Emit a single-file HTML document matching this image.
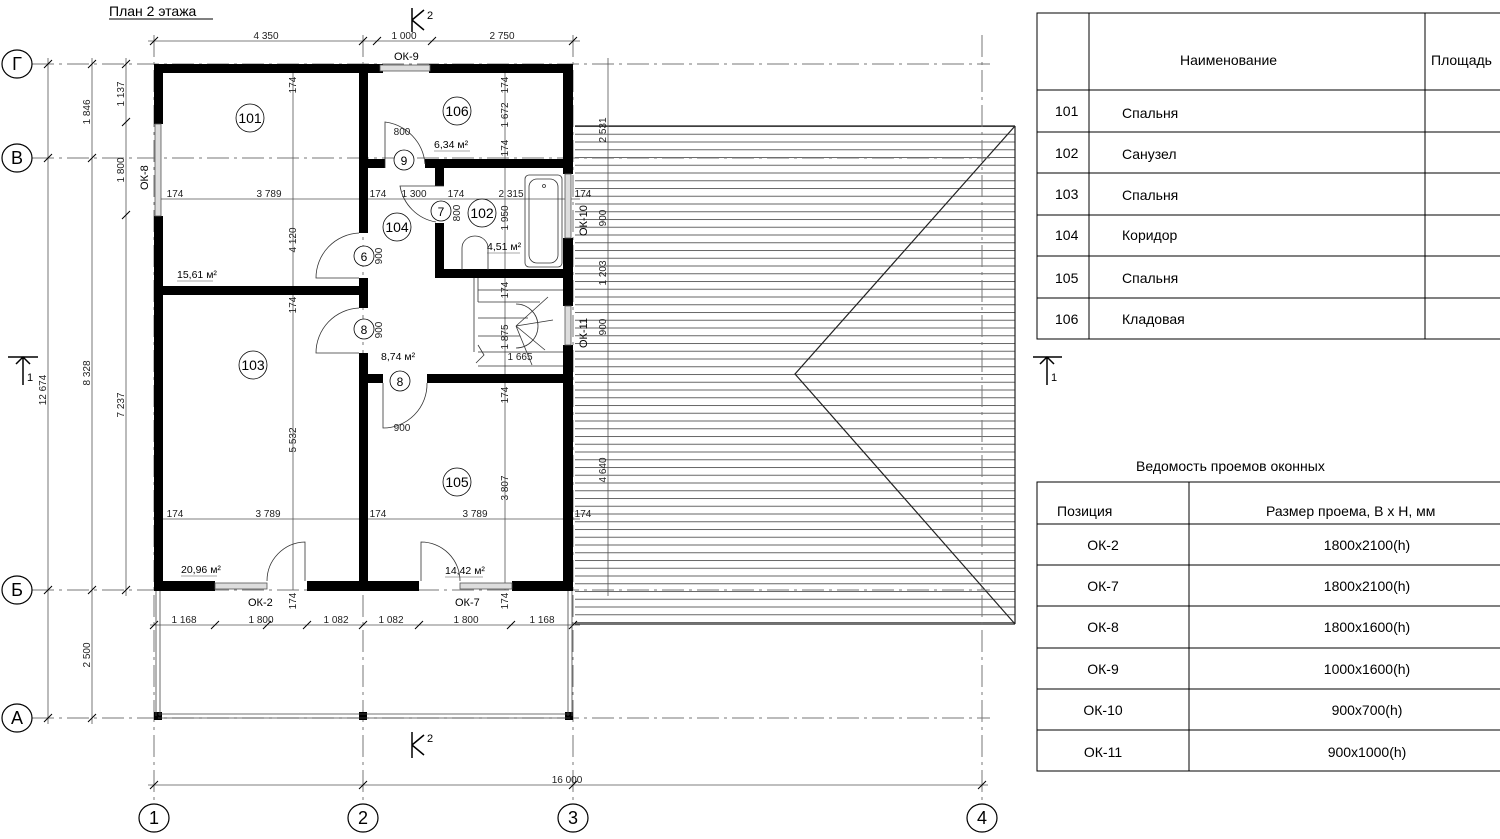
<!DOCTYPE html>
<html><head><meta charset="utf-8"><style>
html,body{margin:0;padding:0;background:#fff;}
svg{display:block;font-family:"Liberation Sans",sans-serif;}
</style></head><body>
<svg width="1500" height="839" viewBox="0 0 1500 839" xmlns="http://www.w3.org/2000/svg">
<defs>
<pattern id="roof" x="0" y="126" width="10" height="7.75" patternUnits="userSpaceOnUse">
<line x1="0" y1="0.5" x2="10" y2="0.5" stroke="#666" stroke-width="1"/>
</pattern>
</defs>
<text x="109" y="16" font-size="14" fill="#000">План 2 этажа</text>
<line x1="109" y1="19" x2="213" y2="19" stroke="#000"/>

<rect x="575" y="126" width="440" height="498" fill="url(#roof)"/>
<g stroke="#222" stroke-width="1.2" fill="none">
<line x1="575" y1="126" x2="1015" y2="126"/>
<line x1="575" y1="624" x2="1015" y2="624"/>
<line x1="1015" y1="126" x2="1015" y2="624"/>
<polyline points="1015,126 795,374 1015,624"/>
</g>

<g stroke="#777" stroke-width="1" stroke-dasharray="22,5,3,5" fill="none">
<line x1="32" y1="64" x2="990" y2="64"/>
<line x1="32" y1="158" x2="990" y2="158"/>
<line x1="32" y1="590" x2="990" y2="590"/>
<line x1="32" y1="718" x2="990" y2="718"/>
<line x1="154" y1="35" x2="154" y2="803"/>
<line x1="363" y1="35" x2="363" y2="803"/>
<line x1="573" y1="35" x2="573" y2="803"/>
<line x1="982" y1="35" x2="982" y2="803"/>
</g>
<g stroke="#000" stroke-width="1.2" fill="#fff">
<ellipse cx="17" cy="64" rx="15" ry="14"/><ellipse cx="17" cy="158" rx="15" ry="14"/><ellipse cx="17" cy="590" rx="15" ry="14"/><ellipse cx="17" cy="718" rx="15" ry="14"/>
<ellipse cx="154" cy="818" rx="15" ry="14"/><ellipse cx="363" cy="818" rx="15" ry="14"/><ellipse cx="573" cy="818" rx="15" ry="14"/><ellipse cx="982" cy="818" rx="15" ry="14"/>
</g>
<g font-size="18" text-anchor="middle" fill="#000">
<text x="17" y="70">Г</text><text x="17" y="164">В</text><text x="17" y="596">Б</text><text x="17" y="724">А</text>
<text x="154" y="824">1</text><text x="363" y="824">2</text><text x="573" y="824">3</text><text x="982" y="824">4</text>
</g>

<g stroke="#555" stroke-width="0.8" fill="none">
<line x1="148" y1="41" x2="580" y2="41"/>
<line x1="148" y1="785" x2="988" y2="785"/>
<line x1="48" y1="58" x2="48" y2="724"/>
<line x1="92" y1="58" x2="92" y2="724"/>
<line x1="126" y1="58" x2="126" y2="596"/>
<line x1="150" y1="625" x2="580" y2="625"/>
<line x1="608" y1="58" x2="608" y2="596"/>
<line x1="160" y1="199" x2="580" y2="199"/>
<line x1="160" y1="519" x2="580" y2="519"/>
<line x1="293" y1="64" x2="293" y2="590"/>
<line x1="505" y1="64" x2="505" y2="590"/>
</g>
<g stroke="#000" stroke-width="1">
<path d="M150,45l8,-8M359,45l8,-8M373,45l8,-8M428,45l8,-8M569,45l8,-8"/>
<path d="M150,789l8,-8M359,789l8,-8M569,789l8,-8M978,789l8,-8"/>
<path d="M44,68l8,-8M44,162l8,-8M44,594l8,-8M44,722l8,-8"/>
<path d="M88,68l8,-8M88,162l8,-8M88,594l8,-8M88,722l8,-8"/>
<path d="M122,68l8,-8M122,126l8,-8M122,219l8,-8M122,594l8,-8"/>
<path d="M150,629l8,-8M211,629l8,-8M263,629l8,-8M303,629l8,-8M359,629l8,-8M415,629l8,-8M507,629l8,-8M569,629l8,-8"/>
</g>
<g font-size="10" fill="#222" text-anchor="middle">
<text x="266" y="39">4 350</text><text x="404" y="39">1 000</text><text x="502" y="39">2 750</text>
<text x="567" y="783">16 000</text>
<text x="184" y="623">1 168</text><text x="261" y="623">1 800</text><text x="336" y="623">1 082</text><text x="391" y="623">1 082</text><text x="466" y="623">1 800</text><text x="542" y="623">1 168</text>
<text x="269" y="197">3 789</text><text x="268" y="517">3 789</text><text x="475" y="517">3 789</text>
<text x="175" y="197">174</text><text x="175" y="517">174</text><text x="378" y="197">174</text><text x="378" y="517">174</text><text x="583" y="197">174</text><text x="583" y="517">174</text>
<text x="414" y="197">1 300</text><text x="456" y="197">174</text><text x="511" y="197">2 315</text>
<text x="402" y="135">800</text><text x="402" y="431">900</text><text x="520" y="360">1 665</text>
<text transform="translate(46,390) rotate(-90)">12 674</text>
<text transform="translate(90,373) rotate(-90)">8 328</text>
<text transform="translate(90,655) rotate(-90)">2 500</text>
<text transform="translate(90,112) rotate(-90)">1 846</text>
<text transform="translate(124,94) rotate(-90)">1 137</text>
<text transform="translate(124,170) rotate(-90)">1 800</text>
<text transform="translate(124,405) rotate(-90)">7 237</text>
<text transform="translate(296,240) rotate(-90)">4 120</text>
<text transform="translate(296,440) rotate(-90)">5 532</text>
<text transform="translate(296,85) rotate(-90)">174</text>
<text transform="translate(296,305) rotate(-90)">174</text>
<text transform="translate(296,601) rotate(-90)">174</text>
<text transform="translate(508,85) rotate(-90)">174</text>
<text transform="translate(508,115) rotate(-90)">1 672</text>
<text transform="translate(508,148) rotate(-90)">174</text>
<text transform="translate(508,218) rotate(-90)">1 950</text>
<text transform="translate(508,290) rotate(-90)">174</text>
<text transform="translate(508,337) rotate(-90)">1 875</text>
<text transform="translate(508,395) rotate(-90)">174</text>
<text transform="translate(508,488) rotate(-90)">3 807</text>
<text transform="translate(508,601) rotate(-90)">174</text>
<text transform="translate(606,130) rotate(-90)">2 531</text>
<text transform="translate(606,218) rotate(-90)">900</text>
<text transform="translate(606,273) rotate(-90)">1 203</text>
<text transform="translate(606,327) rotate(-90)">900</text>
<text transform="translate(606,470) rotate(-90)">4 640</text>
<text transform="translate(382,256) rotate(-90)">900</text>
<text transform="translate(382,330) rotate(-90)">900</text>
<text transform="translate(460,213) rotate(-90)">800</text>
</g>

<g fill="#000">
<rect x="154" y="64" width="229" height="9"/>
<rect x="429" y="64" width="144" height="9"/>
<rect x="154" y="64" width="9" height="60"/>
<rect x="154" y="216" width="9" height="375"/>
<rect x="563" y="64" width="10" height="110"/>
<rect x="563" y="238" width="10" height="68"/>
<rect x="563" y="345" width="10" height="246"/>
<rect x="154" y="581" width="61" height="10"/>
<rect x="307" y="581" width="112" height="10"/>
<rect x="512" y="581" width="61" height="10"/>
<rect x="359" y="64" width="9" height="169"/>
<rect x="359" y="278" width="9" height="30"/>
<rect x="359" y="353" width="9" height="238"/>
<rect x="154" y="286" width="214" height="9"/>
<rect x="359" y="159" width="26" height="9"/>
<rect x="425" y="159" width="148" height="9"/>
<rect x="435" y="159" width="9" height="27"/>
<rect x="435" y="223" width="9" height="55"/>
<rect x="435" y="269" width="138" height="9"/>
<rect x="359" y="374" width="24" height="9"/>
<rect x="427" y="374" width="146" height="9"/>
<rect x="154" y="712" width="8" height="8"/><rect x="359" y="712" width="8" height="8"/><rect x="565" y="712" width="8" height="8"/>
</g>
<g fill="#ddd" stroke="#555" stroke-width="0.8">
<rect x="380" y="65" width="50" height="6"/>
<rect x="155" y="124" width="6" height="92"/>
<rect x="565" y="174" width="6" height="64"/>
<rect x="565" y="306" width="6" height="39"/>
<rect x="215" y="583" width="52" height="6"/>
<rect x="460" y="583" width="52" height="6"/>
</g>
<g stroke="#444" stroke-width="0.8" fill="none">
<line x1="156" y1="591" x2="156" y2="716"/><line x1="160" y1="591" x2="160" y2="716"/>
<line x1="568" y1="591" x2="568" y2="716"/><line x1="572" y1="591" x2="572" y2="716"/>
<line x1="158" y1="714" x2="570" y2="714"/><line x1="158" y1="718" x2="570" y2="718"/>
</g>
<g stroke="#333" stroke-width="0.8" fill="none">
<path d="M385,168 L385,122 A46,46 0 0 1 425,164"/>
<path d="M444,186 L400,186 A44,44 0 0 0 436,222"/>
<path d="M359,233 A45,45 0 0 0 316,278 L359,278"/>
<path d="M359,308 A45,45 0 0 0 316,353 L359,353"/>
<path d="M383,383 L383,428 A44,44 0 0 0 427,383"/>
<path d="M305,581 L305,542 A39,39 0 0 0 267,581"/>
<path d="M421,581 L421,542 A39,39 0 0 1 460,581"/>
<rect x="525" y="175" width="37" height="92" rx="4"/>
<rect x="529" y="179" width="29" height="84" rx="8"/>
<circle cx="544" cy="186" r="1.5"/>
<path d="M462,270 L462,248 A13,12 0 1 1 488,248 L488,270"/>
<line x1="474" y1="278" x2="474" y2="352"/>
<line x1="478" y1="278" x2="478" y2="302"/>
<path d="M478,290 L563,290 M478,302 L540,302 M478,318 L528,318 M478,336 L520,336 M478,352 L563,352 M478,366 L563,366"/>
<path d="M516,304 A22,22 0 0 1 516,348 M516,326 L548,297 M516,326 L553,320 M516,326 L545,350 M516,326 L532,365"/>
<path d="M478,345 l6,10 l-8,8"/>
</g>
<g stroke="#000" stroke-width="0.8" fill="#fff">
<circle cx="250" cy="118" r="14"/><circle cx="457" cy="111" r="14"/><circle cx="482" cy="213" r="14"/><circle cx="397" cy="227" r="14"/><circle cx="253" cy="365" r="14"/><circle cx="457" cy="482" r="14"/>
<circle cx="404" cy="160" r="10"/><circle cx="441" cy="211" r="10"/><circle cx="364" cy="256" r="10"/><circle cx="364" cy="329" r="10"/><circle cx="400" cy="381" r="10"/>
</g>
<g font-size="14" text-anchor="middle" fill="#000">
<text x="250" y="123">101</text><text x="457" y="116">106</text><text x="482" y="218">102</text><text x="397" y="232">104</text><text x="253" y="370">103</text><text x="457" y="487">105</text>
<text x="404" y="165" font-size="12">9</text><text x="441" y="216" font-size="12">7</text><text x="364" y="261" font-size="12">6</text><text x="364" y="334" font-size="12">8</text><text x="400" y="386" font-size="12">8</text>
</g>
<g font-size="10.5" fill="#000">
<text x="434" y="148">6,34 м²</text><text x="487" y="250">4,51 м²</text><text x="177" y="278">15,61 м²</text><text x="381" y="360">8,74 м²</text><text x="181" y="573">20,96 м²</text><text x="445" y="574">14,42 м²</text>
<text x="394" y="60" font-size="11">ОК-9</text><text x="248" y="606" font-size="11">ОК-2</text><text x="455" y="606" font-size="11">ОК-7</text>
<text transform="translate(148,190) rotate(-90)" font-size="11">ОК-8</text>
<text transform="translate(587,236) rotate(-90)" font-size="11">ОК-10</text>
<text transform="translate(587,348) rotate(-90)" font-size="11">ОК-11</text>
</g>
<g stroke="#555" stroke-width="0.6"><line x1="434" y1="151" x2="470" y2="151"/><line x1="487" y1="253" x2="520" y2="253"/><line x1="177" y1="281" x2="213" y2="281"/><line x1="181" y1="576" x2="217" y2="576"/><line x1="445" y1="577" x2="483" y2="577"/></g>

<g stroke="#000" stroke-width="1.5" fill="none">
<path d="M8,357 L38,357 M23,357 L23,385 M16,364 L23,357 L30,364"/>
<path d="M1033,357 L1062,357 M1047,357 L1047,385 M1040,364 L1047,357 L1054,364"/>
<path d="M412,8 L412,32 M412,20 L424,10 M412,20 L424,30"/>
<path d="M412,732 L412,758 M412,745 L424,735 M412,745 L424,755"/>
</g>
<g font-size="11" fill="#000"><text x="27" y="381">1</text><text x="1051" y="381">1</text><text x="427" y="19">2</text><text x="427" y="742">2</text></g>

<g stroke="#000" stroke-width="1" fill="none">
<rect x="1037" y="13" width="470" height="326"/>
<line x1="1089" y1="13" x2="1089" y2="339"/><line x1="1425" y1="13" x2="1425" y2="339"/>
<line x1="1037" y1="90" x2="1500" y2="90"/><line x1="1037" y1="132" x2="1500" y2="132"/><line x1="1037" y1="173" x2="1500" y2="173"/><line x1="1037" y1="215" x2="1500" y2="215"/><line x1="1037" y1="256" x2="1500" y2="256"/><line x1="1037" y1="298" x2="1500" y2="298"/>
</g>
<g font-size="14" fill="#000">
<text x="1180" y="65">Наименование</text><text x="1431" y="65">Площадь</text>
<text x="1055" y="116">101</text><text x="1122" y="118">Спальня</text>
<text x="1055" y="158">102</text><text x="1122" y="159">Санузел</text>
<text x="1055" y="199">103</text><text x="1122" y="200">Спальня</text>
<text x="1055" y="240">104</text><text x="1122" y="240">Коридор</text>
<text x="1055" y="283">105</text><text x="1122" y="283">Спальня</text>
<text x="1055" y="324">106</text><text x="1122" y="324">Кладовая</text>
</g>
<text x="1136" y="471" font-size="14" fill="#000">Ведомость проемов оконных</text>
<g stroke="#000" stroke-width="1" fill="none">
<rect x="1037" y="482" width="470" height="289"/>
<line x1="1189" y1="482" x2="1189" y2="771"/>
<line x1="1037" y1="524" x2="1500" y2="524"/><line x1="1037" y1="565" x2="1500" y2="565"/><line x1="1037" y1="606" x2="1500" y2="606"/><line x1="1037" y1="648" x2="1500" y2="648"/><line x1="1037" y1="689" x2="1500" y2="689"/><line x1="1037" y1="730" x2="1500" y2="730"/>
</g>
<g font-size="14" fill="#000">
<text x="1057" y="516">Позиция</text><text x="1266" y="516">Размер проема, В x Н, мм</text>
</g>
<g font-size="14" fill="#000" text-anchor="middle">
<text x="1103" y="550">ОК-2</text><text x="1367" y="550">1800x2100(h)</text>
<text x="1103" y="591">ОК-7</text><text x="1367" y="591">1800x2100(h)</text>
<text x="1103" y="632">ОК-8</text><text x="1367" y="632">1800x1600(h)</text>
<text x="1103" y="674">ОК-9</text><text x="1367" y="674">1000x1600(h)</text>
<text x="1103" y="715">ОК-10</text><text x="1367" y="715">900x700(h)</text>
<text x="1103" y="757">ОК-11</text><text x="1367" y="757">900x1000(h)</text>
</g>
</svg>
</body></html>
